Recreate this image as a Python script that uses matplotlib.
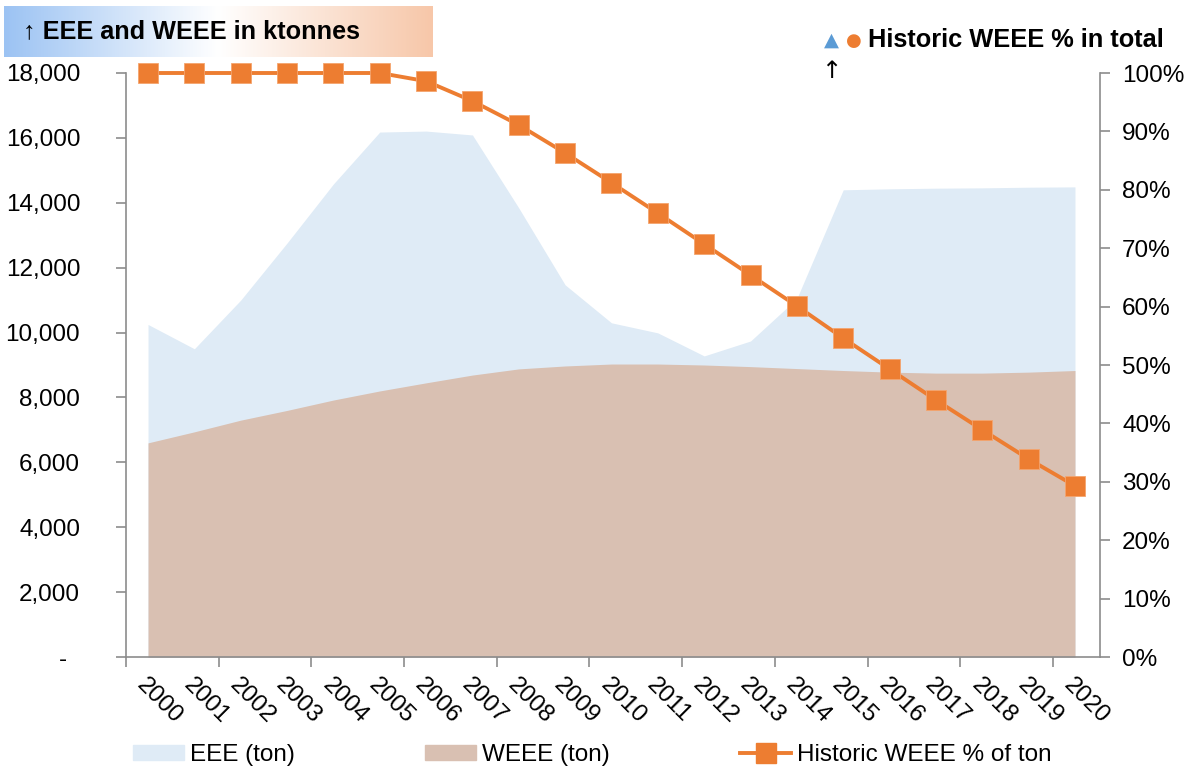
import numpy as np
import matplotlib.pyplot as plt
from matplotlib.colors import LinearSegmentedColormap
from matplotlib.patches import Patch
from matplotlib.lines import Line2D

plt.rcParams['font.family'] = ['Liberation Sans', 'DejaVu Sans']

years = [str(y) for y in range(2000, 2021)]
eee = [10250, 9500, 11000, 12760, 14580, 16180, 16210, 16090, 13840, 11470, 10300,
       9990, 9280, 9740, 11050, 14400, 14430, 14450, 14460, 14480, 14490]
weee = [6600, 6940, 7300, 7600, 7920, 8200, 8450, 8690, 8880, 8970, 9030,
        9030, 9000, 8950, 8890, 8830, 8780, 8750, 8750, 8780, 8830]
pct = [100, 100, 100, 100, 100, 100, 98.6, 95.2, 91.1, 86.3, 81.2,
       76.0, 70.7, 65.4, 60.1, 54.6, 49.3, 44.0, 38.9, 33.9, 29.3]

blue = '#dfebf6'
brown = '#d9c0b2'
orange = '#ed7d31'
grey = '#8c8c8c'
fs = 17.5

fig = plt.figure(figsize=(11.97, 7.76), dpi=100)
ax = fig.add_axes([126/1197, 119/776, 974/1197, 584/776])
x = np.arange(len(years))

ax.fill_between(x, 0, eee, color=blue, lw=0)
ax.fill_between(x, 0, weee, color=brown, lw=0)
ax.set_xlim(-0.475, 20.54)
ax.set_ylim(0, 18000)
ax.set_yticks(range(0, 18001, 2000))
ax.set_yticklabels(['-  '] + [f'{v:,}' for v in range(2000, 18001, 2000)], fontsize=fs)
ax.tick_params(axis='y', pad=26)

ax.set_xticks(np.arange(-0.475, 20.0, 2))
ax.set_xticklabels([])
ax.set_xticks(x, minor=True)
ax.set_xticklabels(years, minor=True, rotation=-45, ha='left', va='top',
                   rotation_mode='anchor', fontsize=fs)
ax.tick_params(axis='x', which='minor', length=0, pad=12)
ax.tick_params(axis='both', which='major', direction='out', length=7, color=grey, width=1.2)

for s in ['top', 'right']:
    ax.spines[s].set_visible(False)
for s in ['left', 'bottom']:
    ax.spines[s].set_color(grey)
    ax.spines[s].set_linewidth(1.2)

ax2 = ax.twinx()
ax2.plot(x, pct, color=orange, lw=2.8, marker='s', markersize=14,
         markeredgecolor='#f4a46e', markeredgewidth=0.6, clip_on=False)
ax2.set_ylim(0, 100)
ax2.set_yticks(range(0, 101, 10))
ax2.set_yticklabels([f'{v}%' for v in range(0, 101, 10)], fontsize=fs)
ax2.tick_params(axis='y', direction='out', length=7, color=grey, width=1.2, pad=9)
for s in ['top', 'left', 'bottom']:
    ax2.spines[s].set_visible(False)
ax2.spines['right'].set_color(grey)
ax2.spines['right'].set_linewidth(1.2)

# gradient title box
tax = fig.add_axes([4/1197, (776-57)/776, 429/1197, 51/776])
cmap = LinearSegmentedColormap.from_list('g', ['#9cc3f3', '#ffffff', '#f7c7a9'])
tax.imshow(np.linspace(0, 1, 256).reshape(1, -1), aspect='auto', cmap=cmap,
           extent=[0, 1, 0, 1])
tax.set_axis_off()
tax.text(0.045, 0.5, '\u2191 EEE and WEEE in ktonnes', fontsize=18.2, fontweight='bold',
         va='center', ha='left', transform=tax.transAxes)

fig.text(824/1197, 1 - 40/776, '\u25b2', color='#5b9bd5', fontsize=14, va='center',
         ha='left', family=['DejaVu Sans'])
fig.text(846/1197, 1 - 41/776, '\u25cf', color=orange, fontsize=13, va='center',
         ha='left', family=['DejaVu Sans'])
fig.text(868/1197, 1 - 40/776, 'Historic WEEE % in total', fontsize=18.3,
         fontweight='bold', va='center', ha='left')
fig.text(821/1197, 1 - 71/776, '\u2191', fontsize=fs, va='center', ha='left',
         family=['DejaVu Sans'])

handles = [Patch(color=blue), Patch(color=brown),
           Line2D([], [], color=orange, lw=2.8, marker='s', markersize=14)]
labels = ['EEE (ton)', 'WEEE (ton)', 'Historic WEEE % of ton']
xs = [133, 425, 740]
for h, l, xx in zip(handles, labels, xs):
    fig.legend([h], [l], loc='center left', bbox_to_anchor=(xx/1197, 21/776),
               frameon=False, fontsize=fs, handlelength=2.1, handletextpad=0.25,
               borderpad=0, borderaxespad=0, handleheight=0.55)

fig.savefig('out.png', dpi=100)
